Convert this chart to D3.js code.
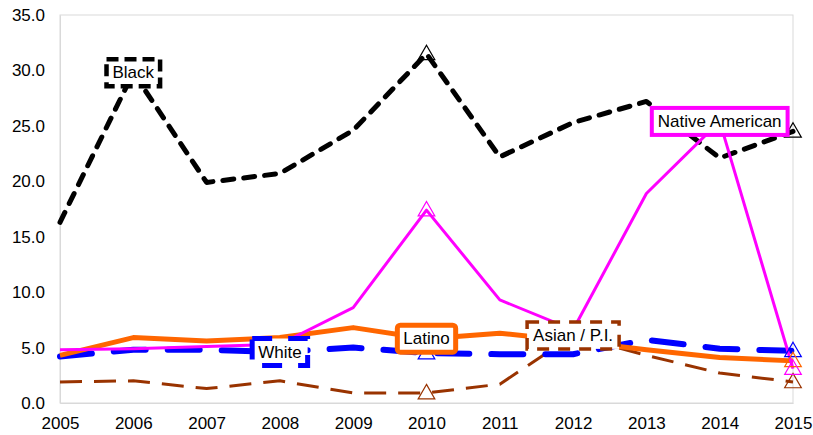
<!DOCTYPE html>
<html>
<head>
<meta charset="utf-8">
<script src="https://cdn.jsdelivr.net/npm/d3@7"></script>
<style>
  html, body { margin: 0; padding: 0; background: #fff; }
  svg { display: block; font-family: "Liberation Sans", Arial, sans-serif; }
</style>
</head>
<body>
<svg id="chart" width="813" height="435"></svg>
<script>
const years = [2005, 2006, 2007, 2008, 2009, 2010, 2011, 2012, 2013, 2014, 2015];
const black = [16.3, 29.8, 19.9, 20.7, 24.6, 31.5, 22.2, 25.3, 27.2, 22.1, 24.5];
const nativeAmerican = [4.8, 4.9, 5.1, 5.3, 8.6, 17.4, 9.3, 6.6, 18.9, 25.4, 3.1];
const latino = [4.3, 5.9, 5.6, 5.9, 6.8, 5.8, 6.3, 5.6, 4.8, 4.1, 3.8];
const white = [4.2, 4.8, 4.8, 4.6, 5.0, 4.5, 4.4, 4.4, 5.7, 4.9, 4.7];
const asian = [1.9, 2.0, 1.3, 2.0, 0.9, 0.9, 1.7, 6.1, 4.3, 2.7, 1.9];
const yTicks = [0, 5, 10, 15, 20, 25, 30, 35];
const markerYears = [2010, 2015];

const seriesList = [
  { name: "Black", values: black, color: "#000000", width: 5, dash: "11,10", cap: "round", labelYear: 2006,
    border: { width: 4.5, dash: "12,6", rx: 0 } },
  { name: "Asian / P.I.", values: asian, color: "#993300", width: 3, dash: "22,12", cap: "butt", labelYear: 2012,
    border: { width: 3.5, dash: "12,9", rx: 0 } },
  { name: "White", values: white, color: "#0000FF", width: 6, dash: "32,22", cap: "round", labelYear: 2008,
    border: { width: 5, dash: "20,16", rx: 0 } },
  { name: "Latino", values: latino, color: "#FF6600", width: 5, dash: null, cap: "butt", labelYear: 2010,
    border: { width: 5, dash: null, rx: 3 } },
  { name: "Native American", values: nativeAmerican, color: "#FF00FF", width: 3, dash: null, cap: "butt", labelYear: 2014,
    border: { width: 4, dash: null, rx: 0 } }
];

const svg = d3.select("#chart");
const plotLeft = 60, plotRight = 793, plotTop = 15, plotBottom = 403;

const x = d3.scaleLinear().domain([2005, 2015]).range([plotLeft, plotRight]);
const y = d3.scaleLinear().domain([0, 35]).range([plotBottom, plotTop]);

// plot area border
svg.append("rect")
  .attr("x", plotLeft).attr("y", plotTop)
  .attr("width", plotRight - plotLeft).attr("height", plotBottom - plotTop)
  .attr("fill", "none").attr("stroke", "#d9d9d9").attr("stroke-width", 1);

// axes
const yAxis = d3.axisLeft(y).tickValues(yTicks).tickFormat(d3.format(".1f")).tickSize(0).tickPadding(15);
const gy = svg.append("g").attr("transform", `translate(${plotLeft},0)`).call(yAxis);
gy.select(".domain").attr("stroke", "#d9d9d9");
gy.selectAll("text").attr("font-size", "17px").attr("fill", "#000")
  .attr("font-family", "'Liberation Sans', Arial, sans-serif");

const xAxis = d3.axisBottom(x).tickValues(years).tickFormat(d3.format("d")).tickSize(0).tickPadding(14);
const gx = svg.append("g").attr("transform", `translate(0,${plotBottom})`).call(xAxis);
gx.select(".domain").attr("stroke", "#d9d9d9");
gx.selectAll("text").attr("font-size", "17px").attr("fill", "#000")
  .attr("font-family", "'Liberation Sans', Arial, sans-serif");

// lines
const line = d3.line().x((d, i) => x(years[i])).y(d => y(d));
seriesList.forEach(s => {
  svg.append("path")
    .attr("d", line(s.values))
    .attr("fill", "none")
    .attr("stroke", s.color)
    .attr("stroke-width", s.width)
    .attr("stroke-dasharray", s.dash)
    .attr("stroke-linecap", s.cap)
    .attr("stroke-linejoin", "round");
});

// triangle markers
const tri = d3.symbol().type(d3.symbolTriangle).size(120);
seriesList.forEach(s => {
  markerYears.forEach(yr => {
    const i = years.indexOf(yr);
    svg.append("path")
      .attr("d", tri())
      .attr("transform", `translate(${x(yr)},${y(s.values[i]) + 1})`)
      .attr("fill", "none")
      .attr("stroke", s.color)
      .attr("stroke-width", 1.2);
  });
});

// labels
seriesList.forEach(s => {
  const i = years.indexOf(s.labelYear);
  const cx = x(s.labelYear), cy = y(s.values[i]);
  const g = svg.append("g");
  const rect = g.append("rect");
  const t = g.append("text")
    .attr("x", cx).attr("y", cy)
    .attr("text-anchor", "middle")
    .attr("dominant-baseline", "central")
    .attr("font-size", "17px")
    .attr("fill", "#000")
    .text(s.name);
  const w = t.node().getComputedTextLength() + 12;
  const h = 27;
  rect.attr("x", cx - w / 2).attr("y", cy - h / 2)
    .attr("width", w).attr("height", h)
    .attr("rx", s.border.rx)
    .attr("fill", "#fff")
    .attr("stroke", s.color)
    .attr("stroke-width", s.border.width)
    .attr("stroke-dasharray", s.border.dash);
});
</script>
</body>
</html>
